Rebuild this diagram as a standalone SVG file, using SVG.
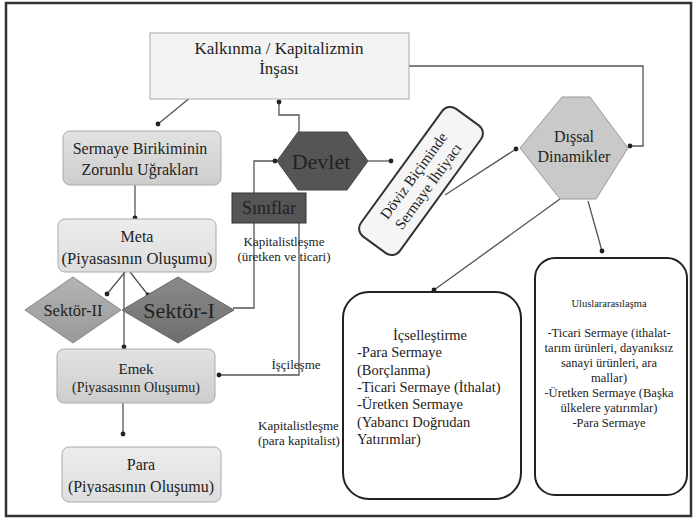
<svg xmlns="http://www.w3.org/2000/svg" width="697" height="521" viewBox="0 0 697 521" font-family="'Liberation Serif', 'DejaVu Serif', serif">
<defs>
<marker id="dot" viewBox="0 0 6 6" refX="3" refY="3" markerWidth="6" markerHeight="6" markerUnits="userSpaceOnUse"><circle cx="3" cy="3" r="2.4" fill="#222"/></marker>
<linearGradient id="g1" x1="0" y1="0" x2="0" y2="1"><stop offset="0" stop-color="#e2e2e2"/><stop offset="1" stop-color="#cdcdcd"/></linearGradient>
<linearGradient id="g2" x1="0" y1="0" x2="0" y2="1"><stop offset="0" stop-color="#ececec"/><stop offset="1" stop-color="#dedede"/></linearGradient>
<linearGradient id="gs2" x1="0" y1="0" x2="0" y2="1"><stop offset="0" stop-color="#b4b4b4"/><stop offset="1" stop-color="#999"/></linearGradient>
<linearGradient id="gs1" x1="0" y1="0" x2="0" y2="1"><stop offset="0" stop-color="#8a8a8a"/><stop offset="1" stop-color="#6e6e6e"/></linearGradient>
</defs>
<style>
text{fill:#222;}
.c{text-anchor:middle;}
.conn{fill:none;stroke:#555;stroke-width:1.3;}
.box{stroke:#aaa;stroke-width:1;}
.big{fill:#fff;stroke:#222;stroke-width:2;}
</style>
<rect x="0" y="0" width="697" height="521" fill="#fff"/>
<rect x="6" y="3" width="685" height="513" fill="none" stroke="#333" stroke-width="2.5"/>

<g id="connectors">
<path class="conn" d="M191,97 L158,124" marker-end="url(#dot)"/>
<path class="conn" d="M409,66 H643 V146 H630" marker-end="url(#dot)"/>
<path class="conn" d="M299,132 V115 H279 V102" marker-end="url(#dot)"/>
<path class="conn" d="M368,161 H391" marker-end="url(#dot)"/>
<path class="conn" d="M233,308 H254 V161 H275" marker-end="url(#dot)"/>
<path class="conn" d="M299,223 V375 H219" marker-end="url(#dot)"/>
<path class="conn" d="M445,195 L516,149" marker-end="url(#dot)"/>
<path class="conn" d="M560,199 L434,290" marker-end="url(#dot)"/>
<path class="conn" d="M588,201 L602,251" marker-end="url(#dot)"/>
<path class="conn" d="M135,185 V218" marker-end="url(#dot)"/>
<path class="conn" d="M125,272 L107,294" marker-end="url(#dot)"/>
<path class="conn" d="M130,272 L148,295" marker-end="url(#dot)"/>
<path class="conn" d="M124,272 V347" marker-end="url(#dot)"/>
<path class="conn" d="M123,403 V434" marker-end="url(#dot)"/>
</g>

<g id="kalkinma">
<rect x="150" y="33" width="259" height="66" fill="#f3f3f3" class="box"/>
<text x="279" y="54" class="c" font-size="17">Kalkınma  / Kapitalizmin</text>
<text x="279" y="74" class="c" font-size="17">İnşası</text>
</g>

<g id="sermaye">
<rect x="63" y="131" width="158" height="54" rx="7" fill="url(#g1)" class="box"/>
<text x="140" y="154" class="c" font-size="16">Sermaye Birikiminin</text>
<text x="140" y="175" class="c" font-size="16">Zorunlu Uğrakları</text>
</g>

<g id="meta">
<rect x="58" y="219" width="158" height="53" rx="7" fill="url(#g2)" class="box"/>
<text x="137" y="242" class="c" font-size="16">Meta</text>
<text x="137" y="264" class="c" font-size="16.5">(Piyasasının Oluşumu)</text>
</g>

<g id="sektor2">
<polygon points="25,310 73,277 121,310 73,343" fill="url(#gs2)" stroke="#888"/>
<text x="73" y="316" class="c" font-size="16.5">Sektör-II</text>
</g>

<g id="sektor1">
<polygon points="122,310 178,277 234,310 178,343" fill="url(#gs1)" stroke="#666"/>
<text x="179" y="318" class="c" font-size="22">Sektör-I</text>
</g>

<g id="emek">
<rect x="57" y="349" width="158" height="54" rx="7" fill="url(#g1)" class="box"/>
<text x="136" y="374" class="c" font-size="15">Emek</text>
<text x="136" y="392" class="c" font-size="14">(Piyasasının Oluşumu)</text>
</g>

<g id="para">
<rect x="62" y="447" width="159" height="55" rx="7" fill="url(#g2)" class="box"/>
<text x="141" y="470" class="c" font-size="16">Para</text>
<text x="141" y="492" class="c" font-size="16">(Piyasasının Oluşumu)</text>
</g>

<g id="devlet">
<polygon points="277,161 298,132 347,132 368,161 347,190 298,190" fill="#555" stroke="#444"/>
<text x="321" y="169" class="c" font-size="22">Devlet</text>
</g>

<g id="siniflar">
<rect x="232" y="193" width="74" height="30" fill="#555" stroke="#333"/>
<text x="269" y="214" class="c" font-size="18">Sınıflar</text>
</g>

<g id="doviz">
<g transform="translate(421,181) rotate(-54)">
<rect x="-79" y="-24" width="158" height="48" rx="10" fill="#f5f5f5" stroke="#333" stroke-width="2"/>
<text x="0" y="-4" class="c" font-size="15">Döviz Biçiminde</text>
<text x="0" y="14" class="c" font-size="15">Sermaye  İhtiyacı</text>
</g>
</g>

<g id="dissal">
<polygon points="520,148 562,97 590,97 628,148 596,199 560,199" fill="#c9c9c9" stroke="#999"/>
<text x="574" y="142" class="c" font-size="16">Dışsal</text>
<text x="574" y="162" class="c" font-size="16">Dinamikler</text>
</g>

<g id="labels">
<text x="284" y="246" class="c" font-size="13">Kapitalistleşme</text>
<text x="284" y="261" class="c" font-size="13">(üretken ve ticari)</text>
<text x="296" y="369" class="c" font-size="13">İşçileşme</text>
<text x="258" y="430" font-size="13">Kapitalistleşme</text>
<text x="258" y="445" font-size="13">(para kapitalist)</text>
</g>

<g id="icsellestirme">
<rect x="343" y="292" width="178" height="207" rx="26" class="big"/>
<text x="430" y="340" class="c" font-size="14.5">İçselleştirme</text>
<text x="357" y="357" font-size="14.5">-Para Sermaye</text>
<text x="357" y="375" font-size="14.5">(Borçlanma)</text>
<text x="357" y="392" font-size="14.5">-Ticari Sermaye (İthalat)</text>
<text x="357" y="409" font-size="14.5">-Üretken Sermaye</text>
<text x="357" y="427" font-size="14.5">(Yabancı Doğrudan</text>
<text x="357" y="444" font-size="14.5">Yatırımlar)</text>
</g>

<g id="uluslararasilasma">
<rect x="535" y="258" width="152" height="237" rx="20" class="big"/>
<text x="609" y="307" class="c" font-size="10.5">Uluslararasılaşma</text>
<text x="609" y="337" class="c" font-size="12.5">-Ticari Sermaye (ithalat-</text>
<text x="609" y="352" class="c" font-size="12.5">tarım ürünleri, dayanıksız</text>
<text x="609" y="367" class="c" font-size="12.5">sanayi ürünleri, ara</text>
<text x="609" y="382" class="c" font-size="12.5">mallar)</text>
<text x="609" y="397" class="c" font-size="12.5">-Üretken Sermaye (Başka</text>
<text x="609" y="412" class="c" font-size="12.5">ülkelere yatırımlar)</text>
<text x="609" y="427" class="c" font-size="12.5">-Para Sermaye</text>
</g>
</svg>
